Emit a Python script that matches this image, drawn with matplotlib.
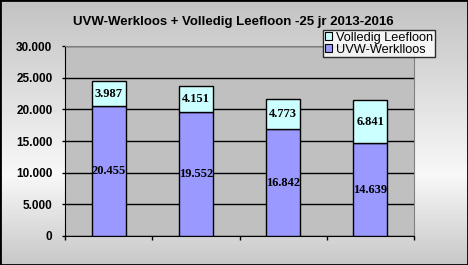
import numpy as np
import matplotlib
matplotlib.use("Agg")
import matplotlib.pyplot as plt
from matplotlib.patches import Patch, Rectangle
from matplotlib.ticker import FuncFormatter

years = ["2013", "2014", "2015", "2016"]
uvw_werkloos = [20455, 19552, 16842, 14639]
volledig_leefloon = [3987, 4151, 4773, 6841]
y_ticks = [0, 5000, 10000, 15000, 20000, 25000, 30000]

COLOR_UVW = "#9999FF"
COLOR_LEEF = "#CCFFFF"


def dotted_thousands(v, pos=None):
    return f"{int(v):,}".replace(",", ".")


fig = plt.figure(figsize=(4.68, 2.65), dpi=100)

# gradient background (grey - light - grey, vertical)
bg = fig.add_axes([0, 0, 1, 1], zorder=-10)
rows = np.linspace(0, 265, 265)
shade = np.interp(rows, [0, 175, 265], [0.76, 0.97, 0.78])
grad = np.repeat(shade[:, None], 10, axis=1)
bg.imshow(grad, cmap="gray", vmin=0, vmax=1, aspect="auto", extent=[0, 1, 0, 1])
bg.set_axis_off()

ax = fig.add_axes([65 / 468, 29 / 265, 349 / 468, 190 / 265])
ax.set_facecolor("#C0C0C0")

x = np.arange(len(years))
width = 0.39
ax.bar(x, uvw_werkloos, width, color=COLOR_UVW, edgecolor="black", linewidth=1, zorder=3)
ax.bar(x, volledig_leefloon, width, bottom=uvw_werkloos, color=COLOR_LEEF,
       edgecolor="black", linewidth=1, zorder=3)

label_font = dict(family="Liberation Serif", fontsize=9, fontweight="bold",
                  color="black", zorder=4)
for xi, low, high in zip(x, uvw_werkloos, volledig_leefloon):
    ax.text(xi, low / 2, dotted_thousands(low), ha="center", va="center", **label_font)
    ax.text(xi, low + high / 2, dotted_thousands(high), ha="center", va="center", **label_font)

ax.set_xlim(-0.5, len(years) - 0.5)
ax.set_ylim(0, 30000)
ax.set_yticks(y_ticks)
ax.yaxis.set_major_formatter(FuncFormatter(dotted_thousands))
ax.grid(axis="y", color="black", linewidth=1, zorder=1)
ax.set_axisbelow(True)

ax.set_xticks(np.arange(-0.5, len(years), 1.0))
ax.set_xticklabels([])
ax.tick_params(axis="x", direction="out", length=3, width=1, colors="black")
ax.tick_params(axis="y", direction="out", length=2.5, width=1, pad=6.5)
for lbl in ax.get_yticklabels():
    lbl.set_family("Liberation Sans")
    lbl.set_fontweight("bold")
    lbl.set_fontsize(8.5)

ax.spines["left"].set_color("black")
ax.spines["bottom"].set_color("black")
ax.spines["top"].set_color("#808080")
ax.spines["right"].set_color("#808080")

fig.text(233 / 468, 1 - 22 / 265, "UVW-Werkloos + Volledig Leefloon -25 jr 2013-2016",
         ha="center", va="center", family="Liberation Sans", fontweight="bold", fontsize=9.5)

handles = [Patch(facecolor=COLOR_LEEF, edgecolor="black", linewidth=0.8),
           Patch(facecolor=COLOR_UVW, edgecolor="black", linewidth=0.8)]
leg = fig.legend(handles, ["Volledig Leefloon", "UVW-Werklloos"],
                 loc="upper left", bbox_to_anchor=(323 / 468, 1 - 30 / 265),
                 prop={"family": "Liberation Sans", "size": 9.2},
                 frameon=True, fancybox=False, borderpad=0.12, labelspacing=0.0,
                 handlelength=0.6, handleheight=0.6, handletextpad=0.3,
                 borderaxespad=0)
leg.get_frame().set_edgecolor("black")
leg.get_frame().set_facecolor("white")
leg.get_frame().set_linewidth(1)

fig.patches.append(Rectangle((0, 0), 1, 1, transform=fig.transFigure, fill=False,
                             edgecolor="black", linewidth=2, zorder=20))

fig.savefig("out.png", dpi=100)
